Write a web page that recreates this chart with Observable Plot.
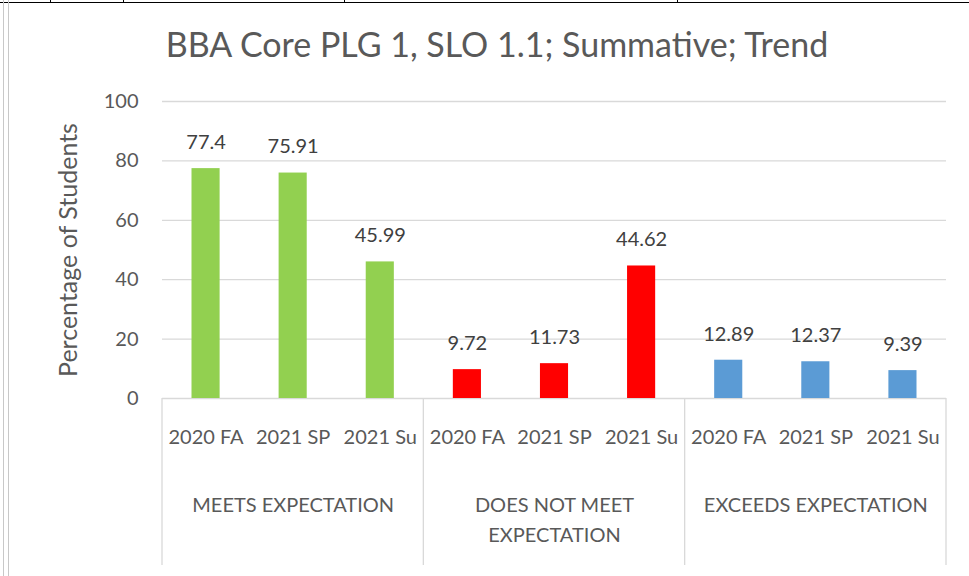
<!DOCTYPE html>
<html><head><meta charset="utf-8">
<script src="https://cdn.jsdelivr.net/npm/d3@7"></script>
<script src="https://cdn.jsdelivr.net/npm/@observablehq/plot@0.6"></script>
<style>
body{margin:0;background:#fff;}
#wrap{position:relative;width:969px;height:576px;overflow:hidden;font-family:Lato, sans-serif;background:#fff;}
#title{position:absolute;top:24px;left:10px;width:974px;text-align:center;font-size:34px;color:#595959;line-height:40px;}
#chart{position:absolute;top:0;left:0;}
#topline{position:absolute;top:2px;left:0;width:969px;height:0;border-top:1.5px solid #000;}
.tk{position:absolute;top:0;width:1px;height:3px;background:#000;}
#lb1{position:absolute;top:0;left:3px;width:1px;height:576px;background:#c8c8c8;}
#lb2{position:absolute;top:0;left:8px;width:1px;height:576px;background:#c8c8c8;}
</style></head><body>
<div id="wrap">
<div id="chart"></div>
<div id="title">BBA Core PLG 1, SLO 1.1; Summative; Trend</div>
<div id="topline"></div>
<div class="tk" style="left:50px"></div><div class="tk" style="left:123px"></div><div class="tk" style="left:344px"></div><div class="tk" style="left:677px"></div>
<div id="lb1"></div><div id="lb2"></div>
</div>
<script>
const groups = ["MEETS EXPECTATION", "DOES NOT MEET\nEXPECTATION", "EXCEEDS EXPECTATION"];
const terms = ["2020 FA", "2021 SP", "2021 Su"];
const meets = [77.4, 75.91, 45.99];
const doesNotMeet = [9.72, 11.73, 44.62];
const exceeds = [12.89, 12.37, 9.39];
const colors = ["#92D050", "#FF0000", "#5B9BD5"];
const yTicks = [0, 20, 40, 60, 80, 100];
const separators = [0, 3, 6, 9];

const seriesValues = [meets, doesNotMeet, exceeds];
const rows = [];
groups.forEach((g, gi) => terms.forEach((t, ti) =>
  rows.push({group: g, term: t, value: seriesValues[gi][ti], idx: gi * 3 + ti, color: colors[gi]})));

const chart = Plot.plot({
  width: 969, height: 576,
  marginLeft: 162, marginRight: 23, marginTop: 101, marginBottom: 178,
  style: {fontFamily: "Lato, sans-serif", fontSize: "20px", color: "#595959", background: "transparent"},
  x: {type: "linear", domain: [0, 9], axis: null},
  y: {domain: [0, 100], ticks: yTicks, tickSize: 0, tickPadding: 24, label: null},
  marks: [
    Plot.ruleY(yTicks, {stroke: "#d9d9d9", strokeWidth: 1.3}),
    Plot.rectY(rows, {x1: "idx", x2: d => d.idx + 1, y: "value", fill: "color", insetLeft: 29.5, insetRight: 29.5}),
    Plot.text(rows, {x: d => d.idx + 0.5, y: "value", text: d => String(d.value), dy: -26, fill: "#404040", fontSize: 20}),
    Plot.text(rows, {x: d => d.idx + 0.5, text: "term", frameAnchor: "bottom", dy: 45, fill: "#595959", fontSize: 20}),
    Plot.text(groups, {x: (d, i) => i * 3 + 1.5, text: d => d, frameAnchor: "bottom", lineAnchor: "top", dy: 92, lineHeight: 1.5, fill: "#595959", fontSize: 20}),
    Plot.text(["Percentage of Students"], {frameAnchor: "left", textAnchor: "middle", rotate: -90, dx: -94, fill: "#595959", fontSize: 25})
  ]
});
const sx = chart.scale("x"), sy = chart.scale("y");
d3.select(chart).append("g").selectAll("line").data(separators).join("line")
  .attr("x1", d => sx.apply(d)).attr("x2", d => sx.apply(d))
  .attr("y1", sy.apply(0)).attr("y2", sy.apply(0) + 167)
  .attr("stroke", "#d9d9d9").attr("stroke-width", 1.3);
document.getElementById("chart").appendChild(chart);
</script>
</body></html>
